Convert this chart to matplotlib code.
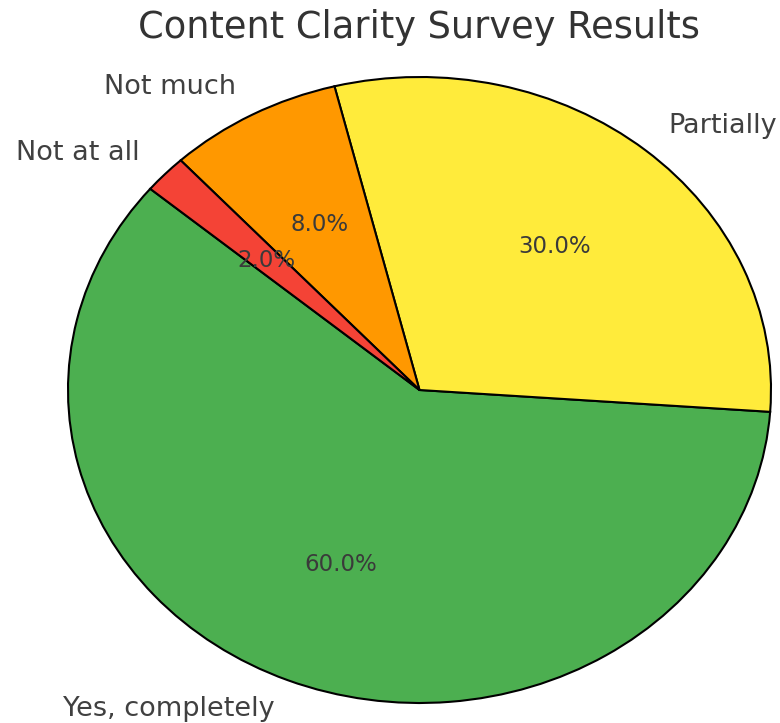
import matplotlib
matplotlib.use("Agg")
import matplotlib.pyplot as plt

labels = ["Yes, completely", "Partially", "Not much", "Not at all"]
shares = [60, 30, 8, 2]
colors = ["#4CAF50", "#FFEB3B", "#FF9800", "#F44336"]

fig = plt.figure(figsize=(7.8, 7.23), dpi=100)
# pie is drawn a bit wider than tall
ax = fig.add_axes([68 / 780, 20 / 723, 703 / 780, 626 / 723])

wedges, texts, autotexts = ax.pie(
    shares,
    labels=labels,
    colors=colors,
    autopct="%1.1f%%",
    startangle=140,
    wedgeprops={"edgecolor": "black", "linewidth": 1.5},
    textprops={"fontsize": 19.5, "color": "#404040"},
)
for t in autotexts:
    t.set_fontsize(16.5)
    t.set_color("#3a3a3a")

ax.set_aspect("auto")
ax.set_xlim(-1, 1)
ax.set_ylim(-1, 1)

fig.text(0.537, 1 - 38 / 723, "Content Clarity Survey Results", ha="center", va="baseline",
         fontsize=26.5, color="#333333")

plt.savefig("out.png", dpi=100)
